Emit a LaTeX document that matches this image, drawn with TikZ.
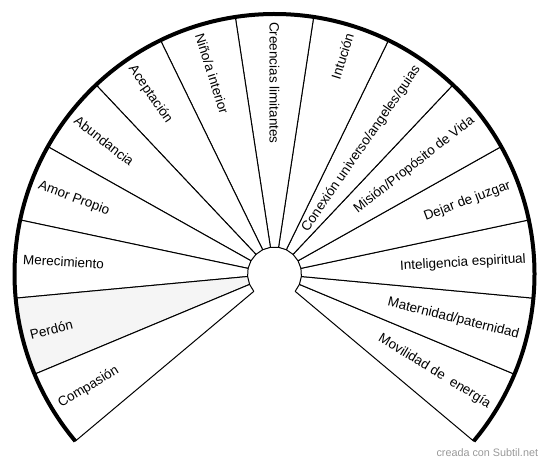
\documentclass[tikz,border=0pt]{standalone}
\usepackage{fontspec}
\setmainfont{Liberation Sans}

\begin{document}
\begin{tikzpicture}[x=0.75pt, y=0.75pt,
    sector/.style={draw=black, line width=0.75pt, line join=round},
    rim/.style={line width=3pt},
    wheellabel/.style={font=\fontsize{10.1}{12}\selectfont, inner sep=0pt},
    credit/.style={font=\fontsize{8.1}{10}\selectfont, text=black!40, inner sep=0pt}]
  \useasboundingbox (-274.5,-191) rectangle (275.5,274);
  \def\rin{27}
  \def\rout{260}
  \def\wedgeangle{17.3333}

  % Sectors, counted counter-clockwise from the lower right
  \foreach \txt [count=\i from 0] in {Movilidad de~ energía, Maternidad/paternidad,
      Inteligencia espiritual, Dejar de juzgar, Misión/Propósito de Vida,
      Conexión universo/angeles/guias, Intución, Creencias limitantes,
      Niño/a interior, Aceptación, Abundancia, Amor Propio, Merecimiento,
      Perdón, Compasión}{
    \pgfmathsetmacro{\aone}{-40+\i*\wedgeangle}
    \pgfmathsetmacro{\atwo}{\aone+\wedgeangle}
    \pgfmathsetmacro{\amid}{\aone+\wedgeangle/2}
    \ifnum\i=13 \def\tone{black!4}\else\def\tone{white}\fi
    \draw[sector, fill=\tone] (\aone:\rin) -- (\aone:\rout)
      arc[start angle=\aone, end angle=\atwo, radius=\rout] -- (\atwo:\rin) -- cycle;
    % label reads outwards on the right, inwards on the left
    \ifdim\amid pt>89pt
      \node[wheellabel, anchor=west, rotate=\amid-180] (lab\i) at (\amid:252) {\txt};
    \else
      \node[wheellabel, anchor=east, rotate=\amid] (lab\i) at (\amid:252) {\txt};
    \fi
  }

  % Thick outer rim
  \draw[rim] (-40:\rout) arc[start angle=-40, end angle=220, radius=\rout];

  \node[credit, anchor=east] (credit) at (263.8,-178.7) {creada con Subtil.net};
\end{tikzpicture}
\end{document}
